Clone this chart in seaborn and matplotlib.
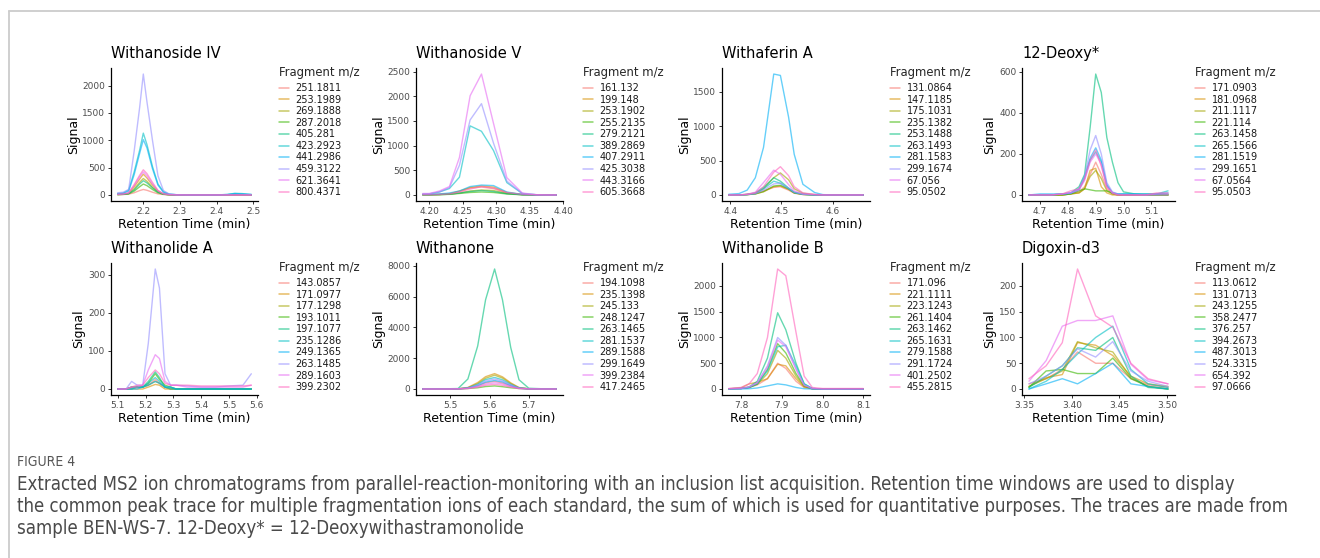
import matplotlib
matplotlib.use("Agg")
import matplotlib.pyplot as plt
import seaborn as sns
import pandas as pd
from matplotlib.lines import Line2D
from matplotlib import font_manager

# ---------------- data ----------------
p1_title = "Withanoside IV"
p1_time = [2.13, 2.145, 2.16, 2.175, 2.19, 2.2, 2.21, 2.225, 2.24, 2.255, 2.27, 2.29, 2.32, 2.36, 2.40, 2.43, 2.45, 2.47, 2.495]
p1_frags = ["251.1811", "253.1989", "269.1888", "287.2018", "405.281", "423.2923", "441.2986", "459.3122", "621.3641", "800.4371"]
p1_signal = [
    [5, 8, 15, 40, 80, 100, 85, 50, 20, 8, 3, 0, 0, 0, 0, 0, 0, 0, 0],
    [10, 15, 30, 150, 290, 380, 310, 180, 70, 20, 5, 0, 0, 0, 0, 0, 2, 0, 0],
    [8, 12, 25, 110, 230, 300, 250, 140, 55, 15, 5, 0, 0, 0, 0, 0, 0, 0, 0],
    [6, 10, 20, 70, 150, 200, 170, 100, 40, 12, 4, 0, 0, 0, 0, 0, 0, 0, 0],
    [8, 12, 25, 90, 200, 260, 220, 130, 50, 15, 5, 0, 0, 0, 0, 5, 15, 10, 0],
    [25, 35, 90, 420, 820, 1130, 920, 520, 200, 60, 15, 5, 0, 0, 0, 10, 30, 25, 10],
    [20, 30, 70, 370, 760, 1010, 860, 480, 180, 50, 12, 4, 0, 0, 0, 8, 25, 20, 8],
    [40, 50, 100, 800, 1600, 2210, 1700, 1000, 350, 80, 20, 5, 0, 0, 0, 0, 0, 0, 0],
    [10, 15, 35, 170, 330, 420, 350, 200, 75, 20, 5, 0, 0, 0, 0, 0, 0, 0, 0],
    [12, 18, 40, 190, 360, 460, 390, 230, 85, 22, 6, 0, 0, 0, 0, 0, 0, 0, 0],
]

p2_title = "Withanoside V"
p2_time = [4.19, 4.20, 4.215, 4.23, 4.245, 4.261, 4.278, 4.296, 4.316, 4.339, 4.36, 4.375, 4.39]
p2_frags = ["161.132", "199.148", "253.1902", "255.2135", "279.2121", "389.2869", "407.2911", "425.3038", "443.3166", "605.3668"]
p2_signal = [
    [5, 5, 10, 20, 70, 140, 160, 130, 40, 8, 0, 0, 0],
    [5, 5, 10, 25, 80, 150, 180, 160, 50, 10, 0, 0, 0],
    [5, 5, 8, 15, 40, 80, 100, 90, 30, 5, 0, 0, 0],
    [3, 3, 6, 12, 30, 50, 60, 50, 20, 3, 0, 0, 0],
    [3, 3, 8, 15, 40, 70, 90, 70, 25, 5, 0, 0, 0],
    [15, 20, 60, 130, 360, 1400, 1290, 900, 250, 30, 5, 0, 0],
    [10, 10, 20, 40, 80, 170, 200, 190, 60, 10, 0, 0, 0],
    [20, 25, 60, 150, 600, 1520, 1850, 1050, 280, 30, 5, 0, 0],
    [30, 30, 80, 170, 760, 2010, 2450, 1450, 350, 40, 5, 0, 0],
    [5, 5, 10, 20, 60, 120, 170, 140, 50, 10, 0, 0, 0],
]

p3_title = "Withaferin A"
p3_time = [4.397, 4.417, 4.433, 4.449, 4.465, 4.485, 4.498, 4.514, 4.525, 4.542, 4.565, 4.581, 4.60, 4.62, 4.64, 4.66]
p3_frags = ["131.0864", "147.1185", "175.1031", "235.1382", "253.1488", "263.1493", "281.1583", "299.1674", "67.056", "95.0502"]
p3_signal = [
    [0, 0, 5, 20, 60, 110, 120, 70, 25, 5, 0, 0, 0, 0, 0, 0],
    [0, 0, 5, 15, 45, 120, 130, 80, 30, 8, 0, 0, 0, 0, 0, 0],
    [0, 0, 8, 25, 90, 250, 320, 220, 90, 25, 5, 0, 0, 0, 0, 0],
    [0, 0, 5, 15, 50, 130, 140, 90, 30, 8, 0, 0, 0, 0, 0, 0],
    [0, 0, 8, 30, 110, 250, 200, 100, 40, 10, 0, 0, 0, 0, 0, 0],
    [0, 0, 5, 20, 90, 200, 170, 90, 35, 10, 0, 0, 0, 0, 0, 0],
    [10, 20, 70, 250, 690, 1755, 1735, 1130, 590, 155, 35, 5, 0, 0, 0, 0],
    [0, 0, 5, 20, 70, 160, 170, 100, 40, 10, 0, 0, 0, 0, 0, 0],
    [0, 0, 10, 40, 180, 360, 300, 150, 60, 15, 5, 0, 0, 0, 0, 0],
    [0, 0, 10, 30, 120, 330, 410, 280, 120, 30, 8, 0, 0, 0, 0, 0],
]

p4_title = "12-Deoxy*"
p4_time = [4.66, 4.70, 4.74, 4.78, 4.81, 4.84, 4.86, 4.88, 4.90, 4.92, 4.94, 4.96, 4.98, 5.00, 5.04, 5.08, 5.12, 5.16]
p4_frags = ["171.0903", "181.0968", "211.1117", "221.114", "263.1458", "265.1566", "281.1519", "299.1651", "67.0564", "95.0503"]
p4_signal = [
    [0, 0, 0, 0, 5, 15, 40, 100, 160, 100, 30, 5, 0, 0, 0, 0, 0, 0],
    [0, 0, 0, 0, 5, 10, 30, 120, 130, 40, 10, 0, 0, 0, 0, 0, 0, 0],
    [0, 0, 0, 0, 5, 10, 30, 90, 120, 80, 20, 5, 0, 0, 0, 0, 0, 0],
    [0, 0, 0, 0, 5, 20, 30, 25, 20, 20, 20, 10, 0, 0, 0, 0, 0, 0],
    [0, 0, 0, 5, 10, 40, 100, 330, 590, 500, 280, 160, 60, 15, 5, 5, 5, 5],
    [0, 0, 0, 5, 8, 25, 80, 170, 210, 160, 45, 10, 5, 5, 5, 0, 5, 20],
    [0, 5, 5, 5, 8, 30, 90, 180, 230, 170, 50, 10, 5, 5, 5, 5, 5, 10],
    [0, 0, 0, 5, 10, 30, 90, 220, 290, 200, 60, 15, 5, 0, 0, 0, 0, 0],
    [0, 0, 0, 5, 10, 25, 70, 160, 200, 150, 40, 10, 0, 0, 0, 0, 5, 5],
    [0, 0, 0, 5, 20, 30, 80, 170, 220, 140, 40, 10, 0, 0, 0, 0, 10, 10],
]

p5_title = "Withanolide A"
p5_time = [5.10, 5.13, 5.15, 5.17, 5.19, 5.21, 5.235, 5.25, 5.27, 5.29, 5.31, 5.35, 5.40, 5.45, 5.50, 5.55, 5.58]
p5_frags = ["143.0857", "171.0977", "177.1298", "193.1011", "197.1077", "235.1286", "249.1365", "263.1485", "289.1603", "399.2302"]
p5_signal = [
    [0, 0, 5, 5, 5, 10, 25, 15, 5, 0, 0, 0, 0, 0, 0, 0, 0],
    [0, 0, 0, 0, 0, 5, 12, 10, 0, 0, 0, 0, 0, 0, 0, 0, 0],
    [0, 0, 0, 5, 5, 10, 20, 15, 5, 0, 0, 0, 0, 0, 0, 0, 0],
    [0, 0, 5, 5, 5, 15, 40, 25, 10, 5, 0, 0, 0, 0, 0, 0, 0],
    [0, 0, 5, 5, 5, 20, 45, 30, 5, 5, 0, 0, 0, 0, 0, 0, 0],
    [0, 0, 0, 5, 5, 15, 30, 20, 5, 0, 0, 0, 0, 0, 0, 0, 0],
    [0, 0, 0, 0, 5, 10, 20, 15, 5, 5, 0, 0, 0, 0, 0, 0, 0],
    [0, 0, 20, 10, 10, 120, 315, 265, 40, 10, 10, 8, 5, 5, 8, 10, 40],
    [0, 0, 5, 5, 10, 50, 90, 80, 20, 10, 10, 5, 5, 5, 5, 5, 10],
    [0, 0, 5, 10, 10, 30, 50, 40, 15, 10, 10, 10, 8, 8, 8, 8, 10],
]

p6_title = "Withanone"
p6_time = [5.43, 5.47, 5.50, 5.52, 5.545, 5.57, 5.59, 5.613, 5.633, 5.654, 5.675, 5.70, 5.73, 5.77]
p6_frags = ["194.1098", "235.1398", "245.133", "248.1247", "263.1465", "281.1537", "289.1588", "299.1649", "399.2384", "417.2465"]
p6_signal = [
    [0, 0, 0, 10, 60, 200, 400, 500, 390, 200, 60, 10, 0, 0],
    [0, 0, 0, 10, 100, 420, 800, 1000, 790, 400, 100, 10, 0, 0],
    [0, 0, 0, 10, 80, 350, 700, 900, 710, 350, 80, 10, 0, 0],
    [0, 0, 0, 5, 30, 80, 160, 200, 150, 80, 30, 5, 0, 0],
    [20, 20, 20, 30, 650, 2800, 5800, 7800, 5800, 2700, 600, 50, 20, 20],
    [0, 0, 0, 10, 70, 300, 610, 750, 600, 300, 70, 10, 0, 0],
    [0, 0, 0, 10, 50, 220, 450, 550, 460, 220, 50, 10, 0, 0],
    [0, 0, 0, 10, 60, 260, 520, 650, 520, 270, 60, 10, 0, 0],
    [0, 0, 0, 10, 40, 160, 320, 400, 330, 160, 40, 10, 0, 0],
    [0, 0, 0, 5, 30, 120, 240, 300, 240, 120, 30, 5, 0, 0],
]

p7_title = "Withanolide B"
p7_time = [7.77, 7.80, 7.82, 7.84, 7.865, 7.89, 7.91, 7.935, 7.955, 7.975, 8.00, 8.03, 8.06, 8.10]
p7_frags = ["171.096", "221.1111", "223.1243", "261.1404", "263.1462", "265.1631", "279.1588", "291.1724", "401.2502", "455.2815"]
p7_signal = [
    [5, 10, 30, 80, 200, 500, 400, 150, 30, 5, 0, 0, 0, 0],
    [5, 20, 100, 130, 200, 480, 450, 200, 40, 5, 0, 0, 0, 0],
    [5, 10, 30, 90, 300, 750, 600, 250, 50, 5, 0, 0, 0, 0],
    [5, 10, 30, 100, 380, 880, 700, 300, 60, 5, 0, 0, 0, 0],
    [5, 10, 40, 150, 600, 1480, 1150, 500, 100, 10, 0, 0, 0, 0],
    [5, 10, 30, 100, 350, 820, 850, 450, 100, 10, 0, 0, 0, 0],
    [0, 0, 5, 20, 60, 100, 80, 30, 5, 0, 0, 0, 0, 0],
    [5, 10, 40, 120, 450, 1000, 850, 400, 80, 10, 0, 0, 0, 0],
    [5, 10, 40, 120, 420, 950, 820, 380, 70, 10, 0, 0, 0, 0],
    [10, 30, 100, 300, 1000, 2330, 2200, 1100, 250, 30, 10, 10, 10, 10],
]

p8_title = "Digoxin-d3"
p8_time = [3.355, 3.373, 3.39, 3.406, 3.425, 3.443, 3.462, 3.48, 3.501]
p8_frags = ["113.0612", "131.0713", "243.1255", "358.2477", "376.257", "394.2673", "487.3013", "524.3315", "654.392", "97.0666"]
p8_signal = [
    [10, 20, 38, 72, 50, 50, 20, 8, 3],
    [5, 22, 28, 90, 85, 65, 25, 10, 5],
    [5, 20, 35, 92, 80, 72, 22, 5, 0],
    [3, 35, 38, 30, 30, 60, 20, 5, 0],
    [3, 25, 45, 80, 75, 100, 25, 3, 0],
    [0, 15, 38, 68, 100, 122, 38, 10, 3],
    [0, 10, 20, 10, 30, 50, 10, 5, 0],
    [10, 25, 45, 78, 62, 92, 35, 15, 5],
    [15, 55, 122, 133, 133, 142, 48, 18, 10],
    [20, 45, 90, 233, 142, 120, 50, 20, 10],
]

caption_head = "FIGURE 4"
caption_lines = [
    "Extracted MS2 ion chromatograms from parallel-reaction-monitoring with an inclusion list acquisition. Retention time windows are used to display",
    "the common peak trace for multiple fragmentation ions of each standard, the sum of which is used for quantitative purposes. The traces are made from",
    "sample BEN-WS-7. 12-Deoxy* = 12-Deoxywithastramonolide",
]

# ---------------- styling / layout ----------------
W, H = 1320, 558
palette = ['#F8766D', '#D89000', '#A3A500', '#39B600', '#00BF7D',
           '#00BFC4', '#00B0F6', '#9590FF', '#E76BF3', '#FF62BC']
ALPHA = 0.6

panels = [
    (p1_title, p1_time, p1_frags, p1_signal, [2.2, 2.3, 2.4, 2.5], "{:.1f}", [0, 500, 1000, 1500, 2000]),
    (p2_title, p2_time, p2_frags, p2_signal, [4.20, 4.25, 4.30, 4.35, 4.40], "{:.2f}", [0, 500, 1000, 1500, 2000, 2500]),
    (p3_title, p3_time, p3_frags, p3_signal, [4.4, 4.5, 4.6], "{:.1f}", [0, 500, 1000, 1500]),
    (p4_title, p4_time, p4_frags, p4_signal, [4.7, 4.8, 4.9, 5.0, 5.1], "{:.1f}", [0, 200, 400, 600]),
    (p5_title, p5_time, p5_frags, p5_signal, [5.1, 5.2, 5.3, 5.4, 5.5, 5.6], "{:.1f}", [0, 100, 200, 300]),
    (p6_title, p6_time, p6_frags, p6_signal, [5.5, 5.6, 5.7], "{:.1f}", [0, 2000, 4000, 6000, 8000]),
    (p7_title, p7_time, p7_frags, p7_signal, [7.8, 7.9, 8.0, 8.1], "{:.1f}", [0, 500, 1000, 1500, 2000]),
    (p8_title, p8_time, p8_frags, p8_signal, [3.35, 3.40, 3.45, 3.50], "{:.2f}", [0, 50, 100, 150, 200]),
]

axes_px = [(111, 68, 258, 201), (416, 68, 563, 201), (722, 68, 870, 201), (1022, 68, 1175, 201),
           (111, 263, 258, 395), (416, 263, 563, 395), (722, 263, 870, 395), (1022, 263, 1175, 395)]
legend_px = [(279, 66), (583, 66), (890, 66), (1195, 66),
             (279, 261), (583, 261), (890, 261), (1195, 261)]

sns.set_style("ticks")
plt.rcParams['font.family'] = ['DejaVu Sans']

fig = plt.figure(figsize=(W / 100, H / 100), dpi=100)
fig.patch.set_facecolor("white")

for (title, time, frags, signal, xt, xfmt, yt), (l, t, r, b), (lx, ly) in zip(panels, axes_px, legend_px):
    ax = fig.add_axes([l / W, 1 - b / H, (r - l) / W, (b - t) / H])
    rows = []
    for f, vals in zip(frags, signal):
        for tt, v in zip(time, vals):
            rows.append((tt, f, v))
    df = pd.DataFrame(rows, columns=["Retention Time (min)", "Fragment m/z", "Signal"])
    sns.lineplot(data=df, x="Retention Time (min)", y="Signal", hue="Fragment m/z",
                 hue_order=frags, palette=palette, estimator=None, linewidth=1.0,
                 alpha=ALPHA, legend=False, ax=ax)
    ax.set_xticks(xt)
    ax.set_xticklabels([xfmt.format(v) for v in xt])
    ax.set_yticks(yt)
    ax.set_yticklabels([str(v) for v in yt])
    ax.tick_params(axis="both", length=2.5, width=0.7, color="#333333",
                   labelsize=6.5, labelcolor="#4D4D4D", pad=1.5)
    for s in ("top", "right"):
        ax.spines[s].set_visible(False)
    for s in ("left", "bottom"):
        ax.spines[s].set_linewidth(0.9)
        ax.spines[s].set_color("black")
    ax.set_xlabel("Retention Time (min)", fontsize=9, labelpad=1.5, color="black")
    ax.set_ylabel("Signal", fontsize=9, labelpad=2, color="black")
    ax.set_title(title, loc="left", fontsize=10.5, pad=7, color="black")
    ax.set_facecolor("white")

    handles = [Line2D([], [], color=c, lw=1.1, alpha=ALPHA) for c in palette]
    leg = ax.legend(handles, frags, title="Fragment m/z", loc="upper left",
                    bbox_to_anchor=(lx / W, 1 - ly / H), bbox_transform=fig.transFigure,
                    frameon=False, fontsize=7, title_fontsize=8.4, handlelength=1.0,
                    handletextpad=0.7, labelspacing=0.16, borderpad=0, borderaxespad=0,
                    alignment="left")
    leg._legend_box.sep = 3.0
    for txt in leg.get_texts():
        txt.set_color("#1A1A1A")

# frame
fig.add_artist(Line2D([9 / W, 9 / W], [0, 1 - 11 / H], transform=fig.transFigure, color="#CCCCCC", lw=1.3))
fig.add_artist(Line2D([9 / W, 1], [1 - 11 / H, 1 - 11 / H], transform=fig.transFigure, color="#CCCCCC", lw=1.3))


def pick_condensed():
    best = None
    for fe in font_manager.fontManager.ttflist:
        name = fe.name
        fn = fe.fname.lower()
        cond = ("narrow" in name.lower() or "condensed" in name.lower() or "condensed" in fn
                or "narrow" in fn or str(fe.stretch) in ("condensed", "semi-condensed"))
        if not cond:
            continue
        if fe.style != "normal":
            continue
        if str(fe.weight) not in ("400", "normal", "regular", "book"):
            if "bold" in fn or "light" in fn or "medium" in fn or "black" in fn or "thin" in fn:
                continue
        if "bold" in fn or "italic" in fn or "light" in fn or "thin" in fn or "black" in fn or "medium" in fn or "semibold" in fn:
            continue
        best = fe
        break
    return best


fe = pick_condensed()
if fe is not None:
    cap_prop = font_manager.FontProperties(fname=fe.fname)
else:
    cap_prop = font_manager.FontProperties(family="Liberation Sans")

renderer = fig.canvas.get_renderer()
head_prop = cap_prop.copy()
head_prop.set_size(10)
head = fig.text(17 / W, 1 - 462 / H, caption_head, fontproperties=head_prop,
                va="center", ha="left", color="#555555")
w = head.get_window_extent(renderer).width
head.set_fontsize(10 * 58 / w)

cap_texts = []
for i, line in enumerate(caption_lines):
    p = cap_prop.copy()
    p.set_size(11)
    ct = fig.text(17 / W, 1 - (484 + 22 * i) / H, line, fontproperties=p,
                  va="center", ha="left", color="#4A4A4A")
    cap_texts.append(ct)
w1 = cap_texts[0].get_window_extent(renderer).width
fs = 11 * 1221 / w1
for ct in cap_texts:
    ct.set_fontsize(fs)

fig.savefig("out.png", dpi=100, facecolor="white")
